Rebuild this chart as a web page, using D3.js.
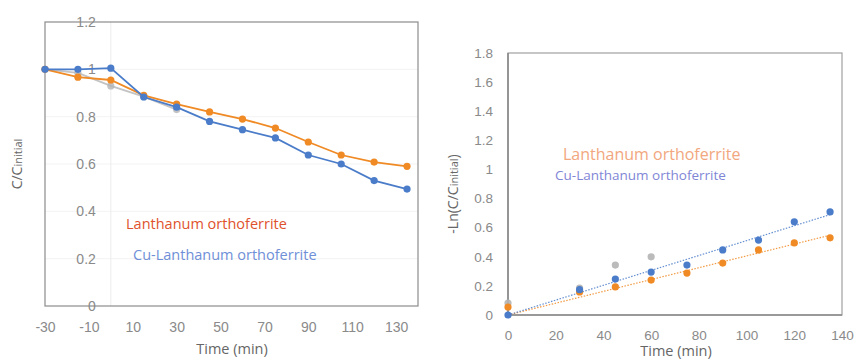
<!DOCTYPE html>
<html>
<head>
<meta charset="utf-8">
<script src="https://cdn.jsdelivr.net/npm/d3@7"></script>
<style>
  body { margin: 0; background: #fff; }
  svg { font-family: "Open Sans", "Liberation Sans", sans-serif; }
  .tick text { fill: #8a8a8a; }
</style>
</head>
<body>
<svg id="chart" width="855" height="360"></svg>
<script>
// left panel: C/Cinitial vs time
const timeL = [-30, -15, 0, 15, 30, 45, 60, 75, 90, 105, 120, 135];
const laFe = [1.0, 0.967, 0.955, 0.89, 0.853, 0.82, 0.79, 0.752, 0.693, 0.638, 0.608, 0.59];
const cuLaFe = [1.0, 1.0, 1.005, 0.883, 0.84, 0.78, 0.745, 0.71, 0.638, 0.60, 0.53, 0.494];
const timeGray = [-30, -15, 0, 15, 30];
const grayL = [1.0, 0.985, 0.93, 0.885, 0.83];
const ticksXL = [-30, -10, 10, 30, 50, 70, 90, 110, 130];
const ticksYL = [0, 0.2, 0.4, 0.6, 0.8, 1, 1.2];

// right panel: -Ln(C/Cinitial) vs time
const timeR = [0, 30, 45, 60, 75, 90, 105, 120, 135];
const lnLaFe = [0.055, 0.158, 0.193, 0.24, 0.288, 0.357, 0.447, 0.495, 0.53];
const lnCuLaFe = [0, 0.174, 0.247, 0.295, 0.343, 0.447, 0.515, 0.64, 0.708];
const timeGrayR = [0, 30, 45, 60];
const lnGray = [0.082, 0.185, 0.343, 0.4];
const ticksXR = [0, 20, 40, 60, 80, 100, 120, 140];
const ticksYR = [0, 0.2, 0.4, 0.6, 0.8, 1, 1.2, 1.4, 1.6, 1.8];

const blue = "#4a7cc9", orange = "#f08a24", gray = "#b4b4b4";
const svg = d3.select("#chart");
const plain = d => String(d);  // keep the hyphen minus like the original

// ---------- left chart ----------
const xL = d3.scaleLinear().domain([-30, 140]).range([45, 418]);
const yL = d3.scaleLinear().domain([0, 1.2]).range([306, 22]);
const gL = svg.append("g");

gL.selectAll(".gridL").data(ticksYL.slice(1, -1)).enter().append("line")
  .attr("x1", 45).attr("x2", 418)
  .attr("y1", d => yL(d)).attr("y2", d => yL(d))
  .attr("stroke", "#f3f3f3");
gL.append("line").attr("x1", xL(0)).attr("x2", xL(0)).attr("y1", 22).attr("y2", 306)
  .attr("stroke", "#ececec");

gL.append("rect").attr("x", 45).attr("y", 22).attr("width", 373).attr("height", 284)
  .attr("fill", "none").attr("stroke", "#8c8c8c").attr("stroke-width", 1.2);

gL.append("g").attr("transform", `translate(0,306)`)
  .call(d3.axisBottom(xL).tickValues(ticksXL).tickSize(0).tickPadding(16).tickFormat(plain))
  .call(g => g.select(".domain").remove())
  .call(g => g.selectAll("text").attr("font-size", 14));
gL.append("g").attr("transform", `translate(${xL(0)},0)`)
  .call(d3.axisLeft(yL).tickValues(ticksYL).tickSize(0).tickPadding(15).tickFormat(plain))
  .call(g => g.select(".domain").remove())
  .call(g => g.selectAll("text").attr("font-size", 14));

const lineL = d3.line().x(d => xL(d[0])).y(d => yL(d[1]));
function seriesL(xs, ys, color, w, op) {
  const pts = xs.map((t, i) => [t, ys[i]]);
  gL.append("path").datum(pts).attr("d", lineL).attr("fill", "none")
    .attr("stroke", color).attr("stroke-width", w).attr("opacity", op);
  gL.selectAll(null).data(pts).enter().append("circle")
    .attr("cx", d => xL(d[0])).attr("cy", d => yL(d[1])).attr("r", 3.6)
    .attr("fill", color).attr("opacity", op);
}
seriesL(timeGray, grayL, gray, 1.8, 0.8);
seriesL(timeL, laFe, orange, 1.8, 1);
seriesL(timeL, cuLaFe, blue, 1.8, 1);

gL.append("text").attr("x", 126).attr("y", 229).attr("fill", "#e0522d")
  .attr("font-size", 14.5).text("Lanthanum orthoferrite");
gL.append("text").attr("x", 133).attr("y", 260).attr("fill", "#6f8fd8")
  .attr("font-size", 14.5).text("Cu-Lanthanum orthoferrite");

const tL = gL.append("text").attr("transform", "translate(22,164) rotate(-90)")
  .attr("text-anchor", "middle").attr("fill", "#666").attr("font-size", 14);
tL.append("tspan").text("C/C");
tL.append("tspan").attr("font-size", 11).text("initial");
gL.append("text").attr("x", 232).attr("y", 354).attr("text-anchor", "middle")
  .attr("fill", "#666").attr("font-size", 14.5).text("Time (min)");

// ---------- right chart ----------
const xR = d3.scaleLinear().domain([0, 140]).range([508, 842]);
const yR = d3.scaleLinear().domain([0, 1.8]).range([315, 53]);
const gR = svg.append("g");

gR.append("rect").attr("x", 508).attr("y", 53).attr("width", 334).attr("height", 262)
  .attr("fill", "none").attr("stroke", "#a0a0a0").attr("stroke-width", 1.2);
gR.append("line").attr("x1", 508).attr("x2", 508).attr("y1", 53).attr("y2", 315)
  .attr("stroke", "#8a8a8a").attr("stroke-width", 1.6);
gR.append("line").attr("x1", 508).attr("x2", 842).attr("y1", 315).attr("y2", 315)
  .attr("stroke", "#8a8a8a").attr("stroke-width", 1.6);

gR.append("g").attr("transform", `translate(0,315)`)
  .call(d3.axisBottom(xR).tickValues(ticksXR).tickSize(0).tickPadding(15).tickFormat(plain))
  .call(g => g.select(".domain").remove())
  .call(g => g.selectAll("text").attr("font-size", 13.5));
gR.append("g").attr("transform", `translate(508,0)`)
  .call(d3.axisLeft(yR).tickValues(ticksYR).tickSize(0).tickPadding(15).tickFormat(plain))
  .call(g => g.select(".domain").remove())
  .call(g => g.selectAll("text").attr("font-size", 13.5));

// linear trendlines through the origin, fitted to each series
function trend(xs, ys, color) {
  const sxy = d3.sum(xs, (t, i) => t * ys[i]);
  const sxx = d3.sum(xs, t => t * t);
  const k = sxy / sxx;
  gR.append("line").attr("x1", xR(0)).attr("y1", yR(0))
    .attr("x2", xR(135)).attr("y2", yR(k * 135))
    .attr("stroke", color).attr("stroke-width", 1.2).attr("stroke-dasharray", "1.5,1.5")
    .attr("opacity", 0.85);
}
trend(timeR, lnLaFe, orange);
trend(timeR, lnCuLaFe, blue);

function pointsR(xs, ys, color, op) {
  gR.selectAll(null).data(xs.map((t, i) => [t, ys[i]])).enter().append("circle")
    .attr("cx", d => xR(d[0])).attr("cy", d => yR(d[1])).attr("r", 3.6)
    .attr("fill", color).attr("opacity", op);
}
pointsR(timeGrayR, lnGray, gray, 0.9);
pointsR(timeR, lnLaFe, orange, 1);
pointsR(timeR, lnCuLaFe, blue, 1);

gR.append("text").attr("x", 563).attr("y", 160).attr("fill", "#f2a77e")
  .attr("font-size", 16).text("Lanthanum orthoferrite");
gR.append("text").attr("x", 555).attr("y", 180).attr("fill", "#7f86d6")
  .attr("font-size", 13.5).text("Cu-Lanthanum orthoferrite");

const tR = gR.append("text").attr("transform", "translate(458,194) rotate(-90)")
  .attr("text-anchor", "middle").attr("fill", "#666").attr("font-size", 14);
tR.append("tspan").text("-Ln(C/C");
tR.append("tspan").attr("font-size", 11).text("initial");
tR.append("tspan").text(")");
gR.append("text").attr("x", 676).attr("y", 356).attr("text-anchor", "middle")
  .attr("fill", "#666").attr("font-size", 14.5).text("Time (min)");
</script>
</body>
</html>
